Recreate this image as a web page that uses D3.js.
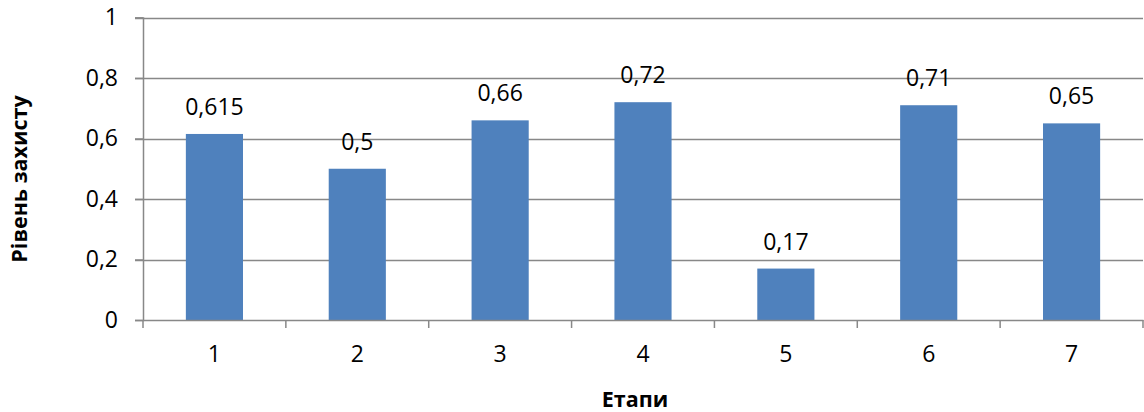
<!DOCTYPE html>
<html><head><meta charset="utf-8">
<script src="https://cdn.jsdelivr.net/npm/d3@7"></script>
<style>body{margin:0;background:#fff;} text{font-family:"Open Sans",sans-serif;}</style>
</head><body>
<svg id="c" width="1144" height="412"></svg>
<script>
const categories = ["1","2","3","4","5","6","7"];
const values = [0.615, 0.5, 0.66, 0.72, 0.17, 0.71, 0.65];
const valueLabels = ["0,615","0,5","0,66","0,72","0,17","0,71","0,65"];
const yTicks = [0, 0.2, 0.4, 0.6, 0.8, 1];
const yTickLabels = ["0","0,2","0,4","0,6","0,8","1"];

(function(){
const FONT = "Open Sans, sans-serif";
const svg = d3.select("#c");
const pLeft = 143, pRight = 1143, pTop = 17.5, pBottom = 320;
const x = d3.scaleBand().domain(categories).range([pLeft, pRight]).paddingInner(0.6).paddingOuter(0.3);
const xb = d3.scaleBand().domain(categories).range([pLeft, pRight]);
const y = d3.scaleLinear().domain([0, 1]).range([pBottom, pTop]);

// gridlines
svg.append("g").selectAll("line").data(yTicks.filter(d => d > 0)).join("line")
  .attr("x1", pLeft - 8).attr("x2", pRight).attr("y1", d => Math.round(y(d)) + 0.5).attr("y2", d => Math.round(y(d)) + 0.5)
  .attr("stroke", "#888").attr("stroke-width", 1.5);

// bars
svg.append("g").selectAll("rect").data(values).join("rect")
  .attr("x", (d, i) => x(categories[i])).attr("width", x.bandwidth())
  .attr("y", d => y(d)).attr("height", d => y(0) - y(d))
  .attr("fill", "#4F81BD");

// y axis
const yAxis = d3.axisLeft(y).tickValues(yTicks).tickSize(8).tickPadding(17)
  .tickFormat((d, i) => yTickLabels[i]);
const gy = svg.append("g").attr("transform", `translate(${pLeft},0)`).call(yAxis);
gy.select(".domain").attr("stroke", "#888").attr("stroke-width", 1.5);
gy.selectAll(".tick line").attr("stroke", "#888").attr("stroke-width", 1.5);
gy.selectAll(".tick text").attr("font-size", 23).attr("fill", "#000").attr("font-family", FONT);

// x axis
const gx = svg.append("g").attr("transform", `translate(0,${pBottom})`)
  .call(d3.axisBottom(xb).tickSize(0).tickPadding(26));
gx.select(".domain").attr("stroke", "#888").attr("stroke-width", 1.5);
gx.selectAll(".tick text").attr("font-size", 23).attr("fill", "#000").attr("font-family", FONT);
// boundary tick marks
const bounds = categories.map(c => xb(c)).concat([pRight]);
svg.append("g").selectAll("line").data(bounds).join("line")
  .attr("x1", d => d).attr("x2", d => d).attr("y1", pBottom).attr("y2", pBottom + 8)
  .attr("stroke", "#888").attr("stroke-width", 1.5);

// value labels
svg.append("g").selectAll("text").data(values).join("text")
  .attr("x", (d, i) => x(categories[i]) + x.bandwidth() / 2)
  .attr("y", d => y(d) - 19)
  .attr("text-anchor", "middle").attr("font-size", 23).attr("fill", "#000").attr("font-family", FONT)
  .text((d, i) => valueLabels[i]);

// axis titles
svg.append("text").attr("transform", "translate(27,179) rotate(-90)")
  .attr("text-anchor", "middle").attr("font-size", 21.5).attr("font-weight", "bold").attr("font-family", FONT)
  .text("Рівень захисту");
svg.append("text").attr("x", 635).attr("y", 407)
  .attr("text-anchor", "middle").attr("font-size", 21.5).attr("font-weight", "bold").attr("font-family", FONT)
  .text("Етапи");
})();
</script>
</body></html>
